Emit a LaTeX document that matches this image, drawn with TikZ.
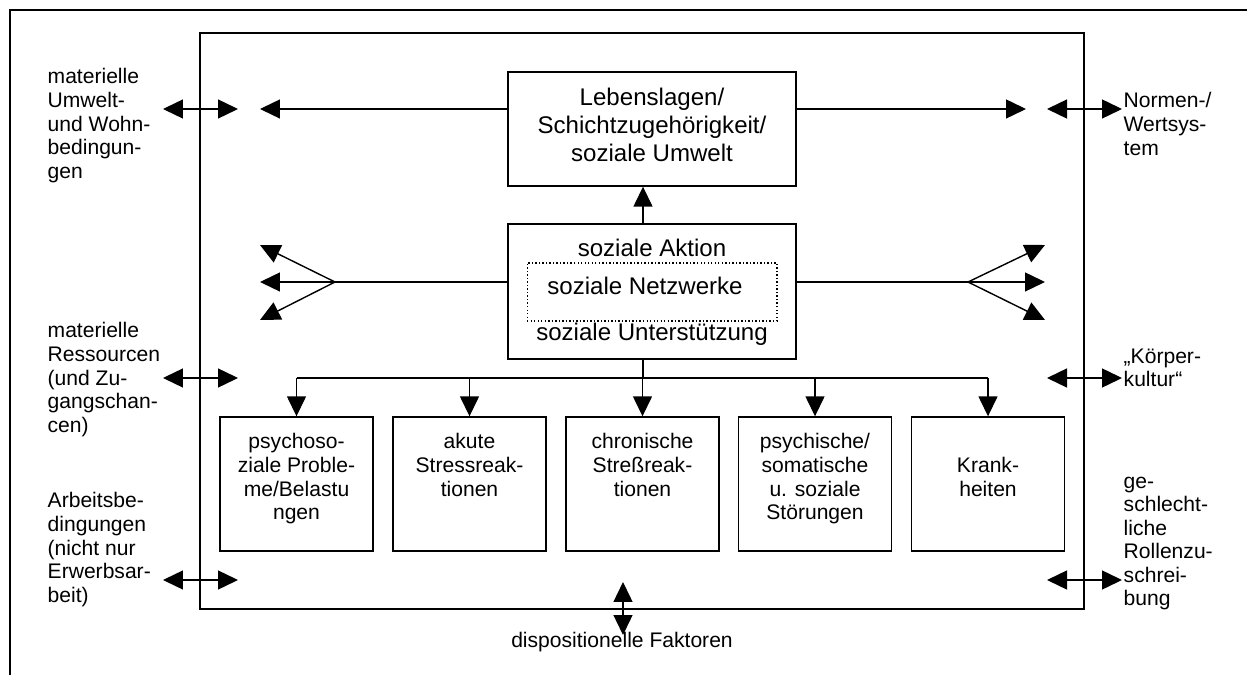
\documentclass[tikz,border=0pt]{standalone}
\usepackage{fontspec}
\setmainfont{Liberation Sans}
\usetikzlibrary{arrows.meta}

\begin{document}
\begin{tikzpicture}[x=0.02cm,y=-0.02cm,line width=0.8pt,
  tip/.style={-{Triangle[length=0.4cm,width=0.38cm]}},
  both/.style={{Triangle[length=0.4cm,width=0.38cm]}-{Triangle[length=0.4cm,width=0.38cm]}},
  box/.style={draw,inner sep=0pt},
  side/.style={font=\fontsize{12}{13.4}\selectfont,align=left,anchor=north west,inner sep=0pt},
  inbox/.style={font=\fontsize{12}{13.4}\selectfont,align=center,anchor=north,inner sep=0pt},
  head/.style={font=\fontsize{13.7}{15.9}\selectfont,align=center,inner sep=0pt}]
\useasboundingbox (0,0) rectangle (1247,675);
\draw[line width=1.2pt] (10,675) -- (10,10) -- (1247,10);
\draw (200,33) rectangle (1084,609);
% center boxes
\node[box,minimum width=5.76cm,minimum height=2.28cm] (lage) at (652,129) {};
\node[head,anchor=north] (lage-t) at (652,87) {Lebenslagen/\\Schichtzugehörigkeit/\\soziale Umwelt};
\node[box,minimum width=5.76cm,minimum height=2.7cm] (akt) at (652,291.5) {};
\node[draw,line width=0.6pt,dash pattern=on 0.8pt off 1.2pt,inner sep=0pt,minimum width=5cm,minimum height=1.16cm] (netz) at (652,292) {};
\node[head,anchor=base] (akt-t) at (652,257) {soziale Aktion};
\node[head,anchor=base] (netz-t) at (645,295) {soziale Netzwerke};
\node[head,anchor=base] (hilfe-t) at (652,340) {soziale Unterstützung};
% bottom row
\foreach \n/\xx/\yy/\txt in {probl/296.5/433/{psychoso-\\ziale Proble-\\me/Belastu\\ngen},
    akut/469.5/433/{akute\\Stressreak-\\tionen},chron/642.5/433/{chronische\\Streßreak-\\tionen},
    stoer/815/433/{psychische/\\somatische\\u. soziale\\Störungen},krank/988/457/{Krank-\\heiten}}{
  \node[box,minimum width=3.06cm,minimum height=2.68cm] (\n) at (\xx,484) {};
  \node[inbox] (\n-t) at (\xx,\yy) {\txt};
}
\coordinate (hub) at (643,378);
\draw[tip] (akt.north -| hub) -- (lage.south -| hub);
\draw (akt.south -| hub) -- (hub);
\draw (probl.north |- hub) -- (krank.north |- hub);
\foreach \n in {probl,akut,chron,stoer,krank} \draw[tip] (\n.north |- hub) -- (\n.north);
% arrows out of the frame
\coordinate (ltip) at (260,109);
\coordinate (rtip) at (1026,109);
\draw[tip] (lage.west |- ltip) -- (ltip);
\draw[tip] (lage.east |- rtip) -- (rtip);
\coordinate (lfan) at (335,282);
\coordinate (rfan) at (968,282);
\draw (akt.west |- lfan) -- (lfan);
\draw (akt.east |- rfan) -- (rfan);
\foreach \yy in {245,282,320} {\draw[tip] (lfan) -- (260,\yy); \draw[tip] (rfan) -- (1045,\yy);}
% outer factors
\node[side] (umwelt) at (47,68) {materielle\\Umwelt-\\und Wohn-\\bedingun-\\gen};
\node[side] (ress) at (47,322) {materielle\\Ressourcen\\(und Zu-\\gangschan-\\cen)};
\node[side] (arbeit) at (47,492) {Arbeitsbe-\\dingungen\\(nicht nur\\Erwerbsar-\\beit)};
\node[side] (normen) at (1123,92) {Normen-/\\Wertsys-\\tem};
\node[side] (koerper) at (1123,348) {„Körper-\\kultur“};
\node[side] (rolle) at (1123,476) {ge-\\schlecht-\\liche\\Rollenzu-\\schrei-\\bung};
\node[inner sep=0pt,anchor=base,font=\fontsize{12}{13.4}\selectfont] (dispo) at (622,647) {dispositionelle Faktoren};
\foreach \yy/\n in {109/a,378/b,580/c}{
  \coordinate (l\n1) at (163,\yy); \coordinate (l\n2) at (238,\yy);
  \coordinate (r\n1) at (1047,\yy); \coordinate (r\n2) at (1122,\yy);
  \draw[both] (l\n1) -- (l\n2);
  \draw[both] (r\n1) -- (r\n2);
}
\coordinate (d1) at (623,582);
\coordinate (d2) at (623,635);
\draw[both] (d1) -- (d2);
\end{tikzpicture}
\end{document}
